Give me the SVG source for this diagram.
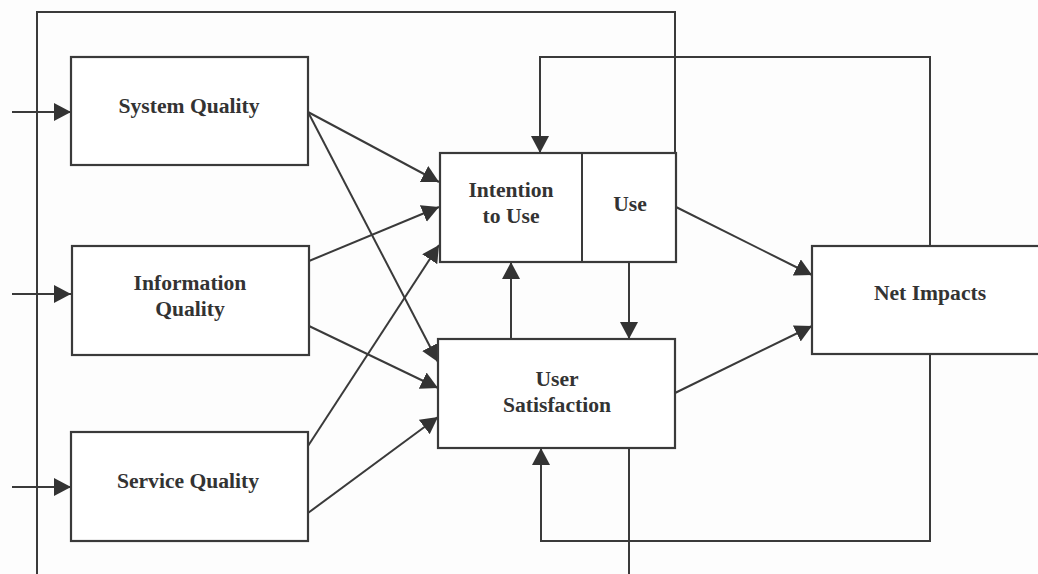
<svg xmlns="http://www.w3.org/2000/svg" width="1038" height="574" viewBox="0 0 1038 574">
<style>
.box{fill:#fff;stroke:#3a3a3a;stroke-width:2.2}
.ln{fill:none;stroke:#3a3a3a;stroke-width:2}
.arr{marker-end:url(#ah)}
.t{font-family:"Liberation Serif","Times New Roman",serif;font-weight:bold;font-size:21.6px;fill:#333;text-anchor:middle}
</style>
<defs>
<marker id="ah" markerUnits="userSpaceOnUse" markerWidth="20" markerHeight="20" refX="17" refY="9" orient="auto">
<path d="M0,0 L17,9 L0,18 z" fill="#333"/>
</marker>
</defs>
<rect width="1038" height="574" fill="#fdfdfd"/>
<g id="connectors">
<path class="ln" d="M37,574 V12 H675 V153"/>
<line class="ln arr" x1="12" y1="112" x2="71" y2="112"/>
<line class="ln arr" x1="12" y1="294" x2="71" y2="294"/>
<line class="ln arr" x1="12" y1="487" x2="71" y2="487"/>
<line class="ln arr" x1="308" y1="112" x2="439" y2="182"/>
<line class="ln arr" x1="308" y1="112" x2="438" y2="362"/>
<line class="ln arr" x1="309" y1="261" x2="439" y2="207"/>
<line class="ln arr" x1="309" y1="326" x2="438" y2="388"/>
<line class="ln arr" x1="308" y1="446" x2="439" y2="245"/>
<line class="ln arr" x1="308" y1="513" x2="438" y2="417"/>
<line class="ln arr" x1="676" y1="207" x2="812" y2="275"/>
<line class="ln arr" x1="675" y1="393" x2="812" y2="326"/>
<line class="ln arr" x1="629" y1="262" x2="629" y2="339"/>
<line class="ln arr" x1="511" y1="339" x2="511" y2="262"/>
<path class="ln arr" d="M930,246 V57 H540 V153"/>
<path class="ln arr" d="M930,354 V541 H541 V448"/>
<line class="ln" x1="629" y1="448" x2="629" y2="574"/>
</g>
<g id="system-quality">
<rect class="box" x="71" y="57" width="237" height="108"/>
<text class="t" x="189" y="113">System Quality</text>
</g>
<g id="information-quality">
<rect class="box" x="72" y="246" width="237" height="109"/>
<text class="t" x="190" y="290">Information</text>
<text class="t" x="190" y="316">Quality</text>
</g>
<g id="service-quality">
<rect class="box" x="71" y="432" width="237" height="109"/>
<text class="t" x="188" y="488">Service Quality</text>
</g>
<g id="intention-use">
<rect class="box" x="440" y="153" width="236" height="109"/>
<line class="ln" x1="582" y1="153" x2="582" y2="262"/>
<text class="t" x="511" y="197">Intention</text>
<text class="t" x="511" y="223">to Use</text>
<text class="t" x="630" y="211">Use</text>
</g>
<g id="user-satisfaction">
<rect class="box" x="438" y="339" width="237" height="109"/>
<text class="t" x="557" y="386">User</text>
<text class="t" x="557" y="412">Satisfaction</text>
</g>
<g id="net-impacts">
<rect class="box" x="812" y="246" width="240" height="108"/>
<text class="t" x="930" y="300">Net Impacts</text>
</g>
</svg>
